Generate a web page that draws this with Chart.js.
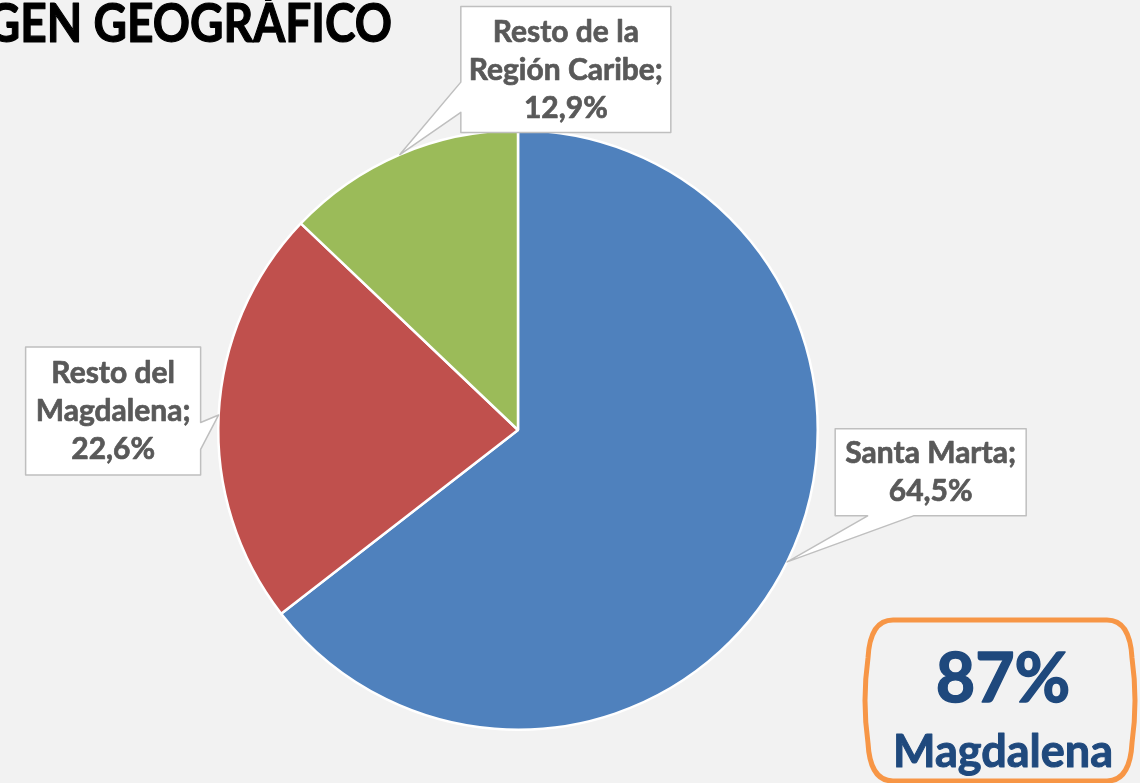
<!DOCTYPE html>
<html>
<head>
<meta charset="utf-8">
<script src="https://cdn.jsdelivr.net/npm/chart.js@4"></script>
<style>
  html, body { margin: 0; padding: 0; background: #f2f2f2; }
  #wrap { position: relative; width: 1140px; height: 783px; overflow: hidden; }
</style>
</head>
<body>
<div id="wrap"><canvas id="pie" width="1140" height="783"></canvas></div>
<script>
// Datos del gráfico
const categories = ['Santa Marta', 'Resto del Magdalena', 'Resto de la Región Caribe'];
const labelLines = [['Santa Marta;'], ['Resto del', 'Magdalena;'], ['Resto de la', 'Región Caribe;']];
const shares = [64.5, 22.6, 12.9];
const colors = ['#4f81bd', '#c0504d', '#9bbb59'];
const titleText = 'GEN GEOGRÁFICO';
const badgeValue = '87%';
const badgeLabel = 'Magdalena';

const FONT = 'Lato, "Noto Sans", sans-serif';

// posición de cada cuadro respecto a la punta (centro del cuadro) y lado del puntero
const boxLayout = [
  { dx: 143.5, dy: -89.5, w: 191, h: 87, side: 'bottom', a: 0.17, b: 0.41 },
  { dx: -105.5, dy: -4, w: 175, h: 128, side: 'right', a: 0.59, b: 0.80 },
  { dx: 166, dy: -85, w: 210, h: 126, side: 'left', a: 0.60, b: 0.84 }
];

function calloutPath(ctx, x, y, w, h, tip, side, a, b) {
  ctx.beginPath();
  ctx.moveTo(x, y);
  ctx.lineTo(x + w, y);
  if (side === 'right') {
    ctx.lineTo(x + w, y + h * a);
    ctx.lineTo(tip.x, tip.y);
    ctx.lineTo(x + w, y + h * b);
  }
  ctx.lineTo(x + w, y + h);
  if (side === 'bottom') {
    ctx.lineTo(x + w * b, y + h);
    ctx.lineTo(tip.x, tip.y);
    ctx.lineTo(x + w * a, y + h);
  }
  ctx.lineTo(x, y + h);
  if (side === 'left') {
    ctx.lineTo(x, y + h * b);
    ctx.lineTo(tip.x, tip.y);
    ctx.lineTo(x, y + h * a);
  }
  ctx.closePath();
}

// recuadro con lados algo abombados
function badgePath(ctx, l, t, r, b) {
  const c = 26, bulge = 5;
  ctx.beginPath();
  ctx.moveTo(l + c, t);
  ctx.lineTo(r - c, t);
  ctx.quadraticCurveTo(r - 3, t, r - 1, t + c + 12);
  ctx.quadraticCurveTo(r + bulge, (t + b) / 2, r - 1, b - c - 12);
  ctx.quadraticCurveTo(r - 3, b, r - c, b);
  ctx.lineTo(l + c, b);
  ctx.quadraticCurveTo(l + 3, b, l + 1, b - c - 12);
  ctx.quadraticCurveTo(l - bulge, (t + b) / 2, l + 1, t + c + 12);
  ctx.quadraticCurveTo(l + 3, t, l + c, t);
  ctx.closePath();
}

// texto algo más grueso (Calibri negrita en el original)
function boldText(ctx, text, x, y, w) {
  ctx.fillText(text, x, y);
  ctx.lineWidth = w;
  ctx.strokeStyle = ctx.fillStyle;
  ctx.strokeText(text, x, y);
}

const decor = {
  id: 'decor',
  beforeDraw(chart) {
    const ctx = chart.ctx;
    ctx.save();
    ctx.fillStyle = '#f2f2f2';
    ctx.fillRect(0, 0, chart.width, chart.height);
    ctx.restore();
  },
  afterDraw(chart) {
    const ctx = chart.ctx;
    const arcs = chart.getDatasetMeta(0).data;
    ctx.save();
    ctx.lineJoin = 'round';

    // título (cortado en el original)
    ctx.save();
    ctx.fillStyle = '#000';
    ctx.font = 'bold 53px ' + FONT;
    ctx.textAlign = 'right';
    ctx.textBaseline = 'alphabetic';
    ctx.translate(392, 42);
    ctx.scale(0.87, 1);
    boldText(ctx, titleText, 0, 0, 1.2);
    ctx.restore();

    // etiquetas con puntero
    arcs.forEach((arc, i) => {
      const p = arc.getProps(['x', 'y', 'startAngle', 'endAngle', 'outerRadius'], true);
      const mid = (p.startAngle + p.endAngle) / 2;
      const tip = { x: p.x + Math.cos(mid) * p.outerRadius, y: p.y + Math.sin(mid) * p.outerRadius };
      const L = boxLayout[i];
      const bx = tip.x + L.dx - L.w / 2;
      const by = tip.y + L.dy - L.h / 2;
      calloutPath(ctx, bx, by, L.w, L.h, tip, L.side, L.a, L.b);
      ctx.fillStyle = '#fff';
      ctx.fill();
      ctx.strokeStyle = '#bfbfbf';
      ctx.lineWidth = 1.5;
      ctx.stroke();

      const lines = labelLines[i].concat([shares[i].toFixed(1).replace('.', ',') + '%']);
      ctx.fillStyle = '#595959';
      ctx.font = 'bold 30px ' + FONT;
      ctx.textAlign = 'center';
      const lh = 38;
      const cx = bx + L.w / 2;
      const firstBase = by + L.h / 2 - (lines.length - 1) * lh / 2 + 10;
      lines.forEach((t, k) => boldText(ctx, t, cx, firstBase + k * lh, 0.7));
    });

    // recuadro naranja
    badgePath(ctx, 867, 620, 1133, 781);
    ctx.strokeStyle = '#f79646';
    ctx.lineWidth = 5;
    ctx.stroke();
    ctx.fillStyle = '#1f497d';
    ctx.textAlign = 'center';
    ctx.font = 'bold 68px ' + FONT;
    boldText(ctx, badgeValue, 1003, 702, 1.5);
    ctx.font = 'bold 45px ' + FONT;
    boldText(ctx, badgeLabel, 1003, 767, 1);

    ctx.restore();
  }
};

new Chart(document.getElementById('pie'), {
  type: 'pie',
  data: {
    labels: categories,
    datasets: [{
      data: shares,
      backgroundColor: colors,
      borderColor: '#ffffff',
      borderWidth: 2.5
    }]
  },
  options: {
    responsive: false,
    animation: false,
    layout: { padding: { left: 217, right: 321, top: 129, bottom: 52 } },
    plugins: { legend: { display: false }, tooltip: { enabled: false } }
  },
  plugins: [decor]
});
</script>
</body>
</html>
